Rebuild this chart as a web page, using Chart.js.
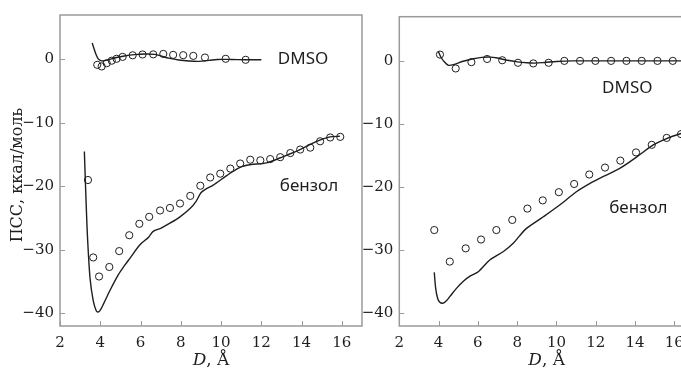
<!DOCTYPE html>
<html>
<head>
<meta charset="utf-8">
<script src="https://cdn.jsdelivr.net/npm/chart.js@4.4.1/dist/chart.umd.min.js"></script>
<style>
  html, body { margin: 0; padding: 0; background: #fff; overflow: hidden; }
  body { width: 681px; height: 370px; position: relative; }
  canvas { position: absolute; top: 0; }
  #left { left: 0; }
  #right { left: 340px; }
</style>
</head>
<body>
<canvas id="left" width="370" height="370"></canvas>
<canvas id="right" width="370" height="370"></canvas>
<script>
// axis ticks
const xTicks = [2, 4, 6, 8, 10, 12, 14, 16];
const yTicks = [-40, -30, -20, -10, 0];

// left panel: DMSO
const dmsoFitLX = [3.6, 3.7, 3.8, 3.9, 4.0, 4.15, 4.4, 4.8, 5.2, 5.7, 6.2, 6.7, 7.0, 7.4, 7.9, 8.4, 8.9, 9.4, 9.8, 10.5, 11.2, 12.0];
const dmsoFitLY = [2.6, 1.6, 0.7, 0.1, -0.15, -0.25, -0.05, 0.3, 0.55, 0.75, 0.85, 0.8, 0.55, 0.2, -0.1, -0.25, -0.3, -0.15, 0.0, 0.0, -0.05, -0.05];
const dmsoPtsLX = [3.85, 4.07, 4.32, 4.57, 4.81, 5.11, 5.61, 6.1, 6.63, 7.13, 7.62, 8.12, 8.62, 9.2, 10.23, 11.22];
const dmsoPtsLY = [-0.85, -1.1, -0.6, -0.2, 0.1, 0.4, 0.65, 0.78, 0.8, 0.87, 0.72, 0.67, 0.56, 0.3, 0.1, -0.06];

// left panel: бензол
const benzFitLX = [3.21, 3.28, 3.36, 3.49, 3.65, 3.8, 3.9, 4.0, 4.15, 4.48, 4.9, 5.2, 5.48, 5.97, 6.4, 6.63, 7.0, 7.46, 7.96, 8.46, 8.75, 9.0, 9.2, 9.61, 10.28, 10.94, 11.43, 12.26, 13.09, 13.92, 14.75, 15.41, 15.9];
const benzFitLY = [-14.5, -21, -27.6, -34.4, -38, -39.6, -39.8, -39.5, -38.6, -36.4, -33.9, -32.5, -31.3, -29.2, -28.0, -27.1, -26.6, -25.8, -24.8, -23.5, -22.4, -21.0, -20.5, -19.8, -18.3, -17.0, -16.6, -16.3, -15.3, -14.2, -12.9, -12.2, -12.1];
const benzPtsLX = [3.39, 3.65, 3.94, 4.45, 4.94, 5.44, 5.94, 6.43, 6.97, 7.46, 7.96, 8.47, 8.97, 9.46, 9.96, 10.46, 10.95, 11.45, 11.95, 12.44, 12.94, 13.44, 13.93, 14.43, 14.92, 15.42, 15.92];
const benzPtsLY = [-19.0, -31.2, -34.2, -32.7, -30.2, -27.7, -25.9, -24.8, -23.8, -23.4, -22.7, -21.5, -19.9, -18.6, -18.0, -17.2, -16.4, -15.8, -15.9, -15.7, -15.4, -14.75, -14.2, -13.9, -12.9, -12.3, -12.2];

// right panel: DMSO
const dmsoFitRX = [3.99, 4.1, 4.25, 4.5, 4.8, 5.2, 5.7, 6.2, 6.6, 7.0, 7.5, 8.0, 8.5, 8.9, 9.4, 10.0, 10.8, 12, 13, 14, 15, 16, 17];
const dmsoFitRY = [1.5, 0.7, 0.0, -0.7, -0.55, -0.1, 0.3, 0.55, 0.6, 0.45, 0.1, -0.15, -0.3, -0.35, -0.25, -0.1, 0, 0, 0, 0, 0, 0, 0];
const dmsoPtsRX = [4.07, 4.87, 5.67, 6.47, 7.24, 8.04, 8.82, 9.6, 10.4, 11.2, 11.98, 12.78, 13.56, 14.34, 15.14, 15.92];
const dmsoPtsRY = [1.0, -1.2, -0.2, 0.3, 0.1, -0.3, -0.4, -0.3, 0, 0, 0, 0, 0, 0, 0, 0];

// right panel: бензол
const benzFitRX = [3.78, 3.85, 3.95, 4.05, 4.21, 4.4, 4.58, 4.92, 5.26, 5.6, 6.02, 6.62, 7.3, 7.8, 8.1, 8.49, 9.33, 10.18, 11.03, 11.71, 12.39, 13.24, 14.09, 14.93, 15.61, 16.34, 16.6];
const benzFitRY = [-33.5, -36.0, -37.6, -38.2, -38.4, -38.0, -37.3, -36.0, -34.9, -34.1, -33.4, -31.5, -30.2, -28.9, -27.8, -26.5, -24.7, -22.8, -20.7, -19.4, -18.3, -17.0, -15.2, -13.3, -12.3, -11.5, -11.3];
const benzPtsRX = [3.78, 4.57, 5.38, 6.16, 6.94, 7.75, 8.52, 9.3, 10.12, 10.9, 11.67, 12.47, 13.25, 14.05, 14.85, 15.61, 16.34];
const benzPtsRY = [-26.8, -31.8, -29.7, -28.3, -26.8, -25.2, -23.4, -22.1, -20.8, -19.5, -18.0, -16.9, -15.8, -14.5, -13.3, -12.2, -11.6];

const INK = '#1e1e1e';
const FRAME = '#9a9a9a';
const SERIF = '"DejaVu Serif", serif';

function pts(xs, ys) {
    return xs.map((x, i) => ({ x: x, y: ys[i] }));
}

function fitLine(xs, ys) {
    return {
        data: pts(xs, ys),
        showLine: true,
        borderColor: INK,
        borderWidth: 1.4,
        tension: 0.3,
        pointRadius: 0,
    };
}

function circles(xs, ys) {
    return {
        data: pts(xs, ys),
        showLine: false,
        pointStyle: 'circle',
        pointRadius: 3.6,
        pointBorderWidth: 1,
        pointBorderColor: INK,
        pointBackgroundColor: 'rgba(255,255,255,0)',
    };
}

// frame, inward ticks, titles and curve labels
const decorPlugin = {
    id: 'decor',
    afterDraw(chart, args, opts) {
        const ctx = chart.ctx;
        const a = chart.chartArea;
        const xs = chart.scales.x;
        const ys = chart.scales.y;
        ctx.save();
        ctx.strokeStyle = FRAME;
        ctx.lineWidth = 1.5;
        ctx.strokeRect(a.left, a.top, a.right - a.left, a.bottom - a.top);

        ctx.lineWidth = 1;
        ctx.beginPath();
        xTicks.forEach(v => {
            const px = Math.round(xs.getPixelForValue(v)) + 0.5;
            ctx.moveTo(px, a.bottom);
            ctx.lineTo(px, a.bottom - 5);
        });
        yTicks.forEach(v => {
            const py = Math.round(ys.getPixelForValue(v)) + 0.5;
            ctx.moveTo(a.left, py);
            ctx.lineTo(a.left + 5, py);
        });
        ctx.stroke();

        // x title: italic D, Å
        ctx.fillStyle = INK;
        ctx.textBaseline = 'alphabetic';
        ctx.textAlign = 'left';
        const cx = (a.left + a.right) / 2;
        ctx.font = 'italic 17px ' + SERIF;
        const w1 = ctx.measureText('D').width;
        ctx.font = '17px ' + SERIF;
        const w2 = ctx.measureText(', Å').width;
        const x0 = cx - (w1 + w2) / 2;
        ctx.font = 'italic 17px ' + SERIF;
        ctx.fillText('D', x0, 365);
        ctx.font = '17px ' + SERIF;
        ctx.fillText(', Å', x0 + w1, 365);

        if (opts.yTitle) {
            ctx.save();
            ctx.translate(18, 175);
            ctx.rotate(-Math.PI / 2);
            ctx.textAlign = 'center';
            ctx.textBaseline = 'middle';
            ctx.font = '16px ' + SERIF;
            ctx.fillText(opts.yTitle, 0, 0);
            ctx.restore();
        }

        ctx.font = '17px "Noto Sans", sans-serif';
        ctx.textAlign = 'left';
        ctx.textBaseline = 'middle';
        opts.labels.forEach(l => {
            ctx.fillText(l.text, xs.getPixelForValue(l.x), ys.getPixelForValue(l.y));
        });
        ctx.restore();
    },
};

function makeChart(id, datasets, yWidth, padTop, padRight, decor) {
    const canvas = document.getElementById(id);
    return new Chart(canvas.getContext('2d'), {
        type: 'scatter',
        data: { datasets: datasets },
        options: {
            responsive: false,
            animation: false,
            devicePixelRatio: 1,
            layout: { padding: { left: 0, top: padTop, right: padRight, bottom: 0 } },
            plugins: {
                legend: { display: false },
                tooltip: { enabled: false },
                decor: decor,
            },
            scales: {
                x: {
                    type: 'linear',
                    min: 2,
                    max: 17,
                    afterBuildTicks: s => { s.ticks = xTicks.map(v => ({ value: v })); },
                    afterFit: s => { s.height = 44; },
                    grid: { display: false, drawTicks: false },
                    border: { display: false },
                    ticks: {
                        autoSkip: false,
                        maxRotation: 0,
                        padding: 8,
                        color: INK,
                        font: { family: SERIF, size: 15 },
                    },
                },
                y: {
                    type: 'linear',
                    min: -42,
                    max: 7,
                    afterBuildTicks: s => { s.ticks = yTicks.map(v => ({ value: v })); },
                    afterFit: s => { s.width = yWidth; },
                    grid: { display: false, drawTicks: false },
                    border: { display: false },
                    ticks: {
                        padding: 6,
                        color: INK,
                        font: { family: SERIF, size: 15 },
                        callback: v => String(v).replace('-', '\u2212'),
                    },
                },
            },
        },
        plugins: [decorPlugin],
    });
}

makeChart('left', [
    circles(dmsoPtsLX, dmsoPtsLY),
    fitLine(dmsoFitLX, dmsoFitLY),
    circles(benzPtsLX, benzPtsLY),
    fitLine(benzFitLX, benzFitLY),
], 60, 10, 8, {
    yTitle: 'ПСС, ккал/моль',
    labels: [
        { text: 'DMSO', x: 12.82, y: 0 },
        { text: 'бензол', x: 12.92, y: -20 },
    ],
});

makeChart('right', [
    circles(dmsoPtsRX, dmsoPtsRY),
    fitLine(dmsoFitRX, dmsoFitRY),
    circles(benzPtsRX, benzPtsRY),
    fitLine(benzFitRX, benzFitRY),
], 59.3, 16.7, 16, {
    yTitle: null,
    labels: [
        { text: 'DMSO', x: 12.32, y: -4.3 },
        { text: 'бензол', x: 12.68, y: -23.3 },
    ],
});
</script>
</body>
</html>
